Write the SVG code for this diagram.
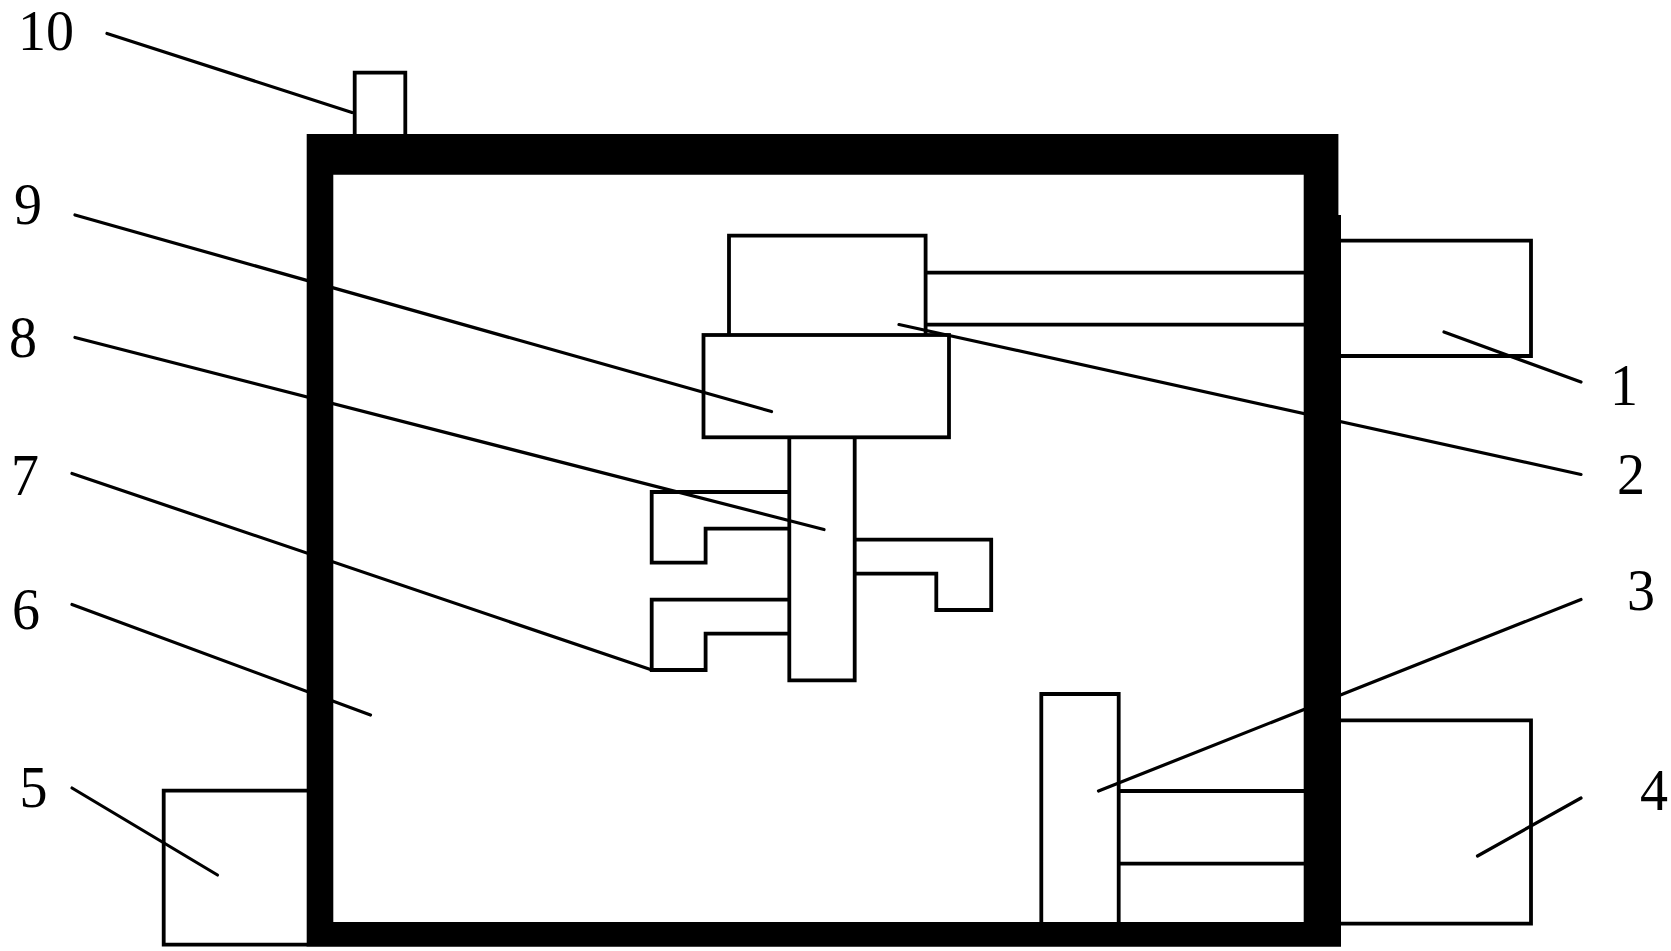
<svg xmlns="http://www.w3.org/2000/svg" width="1671" height="951" viewBox="0 0 1671 951">
<style>
.part{fill:none;stroke:#000;stroke-width:3.8;stroke-linejoin:miter}
.wall{fill:#000;fill-rule:evenodd;stroke:none}
.lead{fill:none;stroke:#000;stroke-width:3.200;stroke-linecap:round}
.num{font-family:"Liberation Serif","Times New Roman",serif;font-size:60px;fill:#000}
</style>
<rect width="1671" height="951" fill="#fff"/>
<g id="connectors">
<line class="lead" x1="107" y1="33.5" x2="352" y2="112.5"/>
<line class="lead" x1="75" y1="215" x2="771.5" y2="411.5"/>
<line class="lead" x1="75" y1="337.5" x2="824" y2="529.5"/>
<line class="lead" x1="72" y1="473.5" x2="650.5" y2="669.5"/>
<line class="lead" x1="72" y1="604.5" x2="370.5" y2="715"/>
<line class="lead" x1="72" y1="788" x2="217.5" y2="875"/>
<line class="lead" x1="1444" y1="332" x2="1581" y2="382"/>
<line class="lead" x1="899" y1="324.5" x2="1581" y2="474.5"/>
<line class="lead" x1="1098.5" y1="791" x2="1581" y2="599.5"/>
<line class="lead" x1="1477.5" y1="856" x2="1581" y2="798"/>
</g>
<g id="part-1">
<path class="part" d="M1341 240.7H1531V356H1341"/>
<text class="num" x="1610" y="405" textLength="28" lengthAdjust="spacingAndGlyphs">1</text>
</g>
<g id="part-2">
<path class="part" d="M729 335V235.7H925.6V335M925.6 272.7H1304M925.6 324.7H1304"/>
<text class="num" x="1617" y="494" textLength="28" lengthAdjust="spacingAndGlyphs">2</text>
</g>
<g id="part-3">
<path class="part" d="M1041.3 922V694H1118.7V922M1118.7 791H1304M1118.7 863.7H1304"/>
<text class="num" x="1627" y="610" textLength="28" lengthAdjust="spacingAndGlyphs">3</text>
</g>
<g id="part-4">
<path class="part" d="M1341 720.3H1531V923.7H1341"/>
<text class="num" x="1640" y="810" textLength="28" lengthAdjust="spacingAndGlyphs">4</text>
</g>
<g id="part-5">
<path class="part" d="M307 790.7H163.7V944.7H307"/>
<text class="num" x="19.5" y="807" textLength="28" lengthAdjust="spacingAndGlyphs">5</text>
</g>
<g id="part-7">
<path class="part" d="M789.3 492H651.7V562.7H705.6V528.7H789.3"/>
<path class="part" d="M789.3 599.7H651.7V670H705.6V633.7H789.3"/>
<path class="part" d="M854.7 539.7H991.2V610H936.3V573.7H854.7"/>
<text class="num" x="11" y="495" textLength="28" lengthAdjust="spacingAndGlyphs">7</text>
</g>
<g id="part-8">
<path class="part" d="M789.3 437.3V680.3H854.7V437.3"/>
<text class="num" x="9" y="357" textLength="28" lengthAdjust="spacingAndGlyphs">8</text>
</g>
<g id="part-9">
<rect class="part" x="703.500" y="335" width="245.500" height="102.300"/>
<text class="num" x="14" y="224" textLength="28" lengthAdjust="spacingAndGlyphs">9</text>
</g>
<g id="part-10">
<path class="part" d="M354.700 134V72.700H405.300V134"/>
<text class="num" x="18" y="50" style="font-size:56px" textLength="56" lengthAdjust="spacingAndGlyphs">10</text>
</g>
<g id="part-6">
<path class="wall" d="M306.700 134H1338.400V215H1341V946.700H306.700ZM333.300 174.700V922H1303.700V174.700Z"/>
<text class="num" x="12" y="629" textLength="28" lengthAdjust="spacingAndGlyphs">6</text>
</g>
</svg>
